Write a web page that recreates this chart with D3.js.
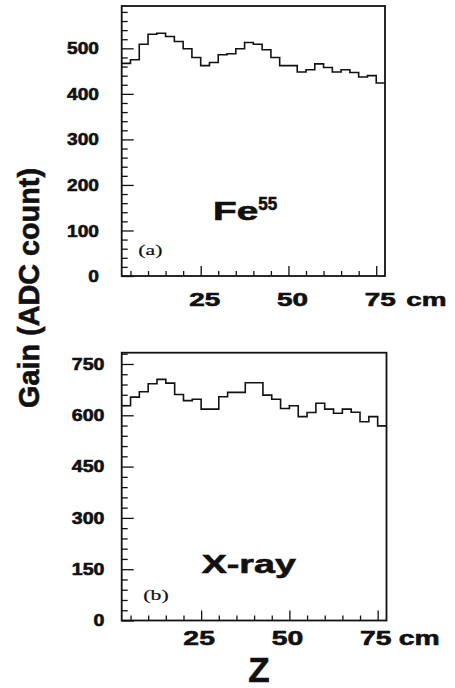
<!DOCTYPE html>
<html>
<head>
<meta charset="utf-8">
<script src="https://cdn.jsdelivr.net/npm/d3@7"></script>
<style>
  html, body { margin: 0; padding: 0; background: #fff; }
  svg { display: block; }
  text { font-family: "Liberation Sans", Arial, Helvetica, sans-serif; font-weight: bold; fill: #111;
         stroke: #111; stroke-width: 0.6px; }
  .serif { font-family: "Liberation Serif", "Times New Roman", serif; font-weight: normal; stroke-width: 0.2px; }
</style>
</head>
<body>
<svg id="chart" width="455" height="688"></svg>
<script>
// Lower edge of each 2.5 cm bin along Z (cm)
const binLow = [2.5, 5, 7.5, 10, 12.5, 15, 17.5, 20, 22.5, 25, 27.5, 30, 32.5, 35, 37.5,
                40, 42.5, 45, 47.5, 50, 52.5, 55, 57.5, 60, 62.5, 65, 67.5, 70, 72.5, 75];
const binWidth = 2.5;

// Gain (ADC count) per bin, Fe55 source (a)
const gainFe55 = [467, 475, 509, 531, 533, 526, 515, 499, 480, 462, 469, 486, 488, 499, 513,
                  509, 497, 480, 462, 462, 448, 453, 466, 458, 448, 453, 447, 437, 440, 424];

// Gain (ADC count) per bin, X-ray source (b)
const gainXray = [628, 653, 669, 692, 705, 694, 661, 643, 647, 618, 618, 654, 667, 667, 695,
                  695, 659, 647, 620, 628, 596, 608, 635, 618, 606, 618, 609, 581, 596, 569];

// Axis tick labels
const zTicks = [25, 50, 75];
const topGainTicks = [0, 100, 200, 300, 400, 500];
const bottomGainTicks = [0, 150, 300, 450, 600, 750];

const svg = d3.select("#chart");

function drawPanel(opt) {
  const x = d3.scaleLinear().domain([2.5, 77.5]).range([opt.left, opt.right]);
  const y = d3.scaleLinear().domain([0, opt.yMax]).range([opt.bottom, opt.top]);
  const g = svg.append("g");

  // minor / major ticks pointing into the frame
  const xMinor = d3.range(5, 77.5, 5).filter(v => !zTicks.includes(v));
  g.append("g").attr("transform", `translate(0,${opt.bottom})`)
    .call(d3.axisBottom(x).tickValues(xMinor).tickSize(-5).tickFormat(""));
  g.append("g").attr("transform", `translate(0,${opt.bottom})`)
    .call(d3.axisBottom(x).tickValues(zTicks).tickSize(-10).tickFormat(""));
  const yMinor = d3.range(0, opt.yMax, opt.yMinorStep).filter(v => !opt.yTicks.includes(v));
  g.append("g").attr("transform", `translate(${opt.left},0)`)
    .call(d3.axisLeft(y).tickValues(yMinor).tickSize(-6).tickFormat(""));
  g.append("g").attr("transform", `translate(${opt.left},0)`)
    .call(d3.axisLeft(y).tickValues(opt.yTicks).tickSize(-12).tickFormat(""));
  g.selectAll(".domain").remove();
  g.selectAll(".tick line").attr("stroke", "#111").attr("stroke-width", 1.3);

  // frame
  g.append("rect")
    .attr("x", opt.left).attr("y", opt.top)
    .attr("width", opt.right - opt.left).attr("height", opt.bottom - opt.top)
    .attr("fill", "none").attr("stroke", "#111").attr("stroke-width", 1.8);

  // histogram as a step outline
  const pts = [];
  opt.data.forEach((v, i) => {
    pts.push([x(binLow[i]), y(v)]);
    pts.push([x(binLow[i] + binWidth), y(v)]);
  });
  g.append("path")
    .attr("d", d3.line()(pts))
    .attr("fill", "none").attr("stroke", "#111").attr("stroke-width", 1.6);

  // y tick labels
  opt.yTicks.forEach(v => {
    g.append("text")
      .attr("transform", `translate(${opt.yLabelRight},${y(v)}) scale(${opt.yLabelSx},1)`)
      .attr("text-anchor", "end").attr("dy", "0.36em")
      .style("font-size", opt.yLabelSize + "px")
      .text(v);
  });

  // x tick labels
  zTicks.forEach(v => {
    g.append("text")
      .attr("transform", `translate(${x(v) + opt.xLabelDx},${opt.xLabelBase}) scale(${opt.xLabelSx},1)`)
      .attr("text-anchor", "middle")
      .style("font-size", opt.xLabelSize + "px")
      .text(v);
  });
  g.append("text")
    .attr("transform", `translate(${x(75) + opt.unitDx},${opt.xLabelBase}) scale(${opt.xLabelSx},1)`)
    .style("font-size", opt.xLabelSize + "px")
    .text("cm");

  return { x, y, g };
}

// (a) Fe55
const panelA = drawPanel({
  left: 121.7, right: 385, top: 6, bottom: 276,
  yMax: 593, yMinorStep: 20, yTicks: topGainTicks, data: gainFe55,
  yLabelRight: 99, yLabelSx: 1.14, yLabelSize: 16.8,
  xLabelDx: 4, xLabelBase: 306, xLabelSx: 1.5, xLabelSize: 18.6, unitDx: 30
});
panelA.g.append("text")
  .attr("transform", "translate(213,219.5) scale(1.55,1)")
  .style("font-size", "25px").text("Fe");
panelA.g.append("text")
  .attr("transform", "translate(258.3,210) scale(0.95,1)")
  .style("font-size", "18px").text("55");
panelA.g.append("text").attr("class", "serif")
  .attr("transform", "translate(138.3,255) scale(1.5,1)")
  .style("font-size", "14.5px").text("(a)");

// (b) X-ray
const panelB = drawPanel({
  left: 121.7, right: 386.5, top: 352.7, bottom: 620.5,
  yMax: 783, yMinorStep: 30, yTicks: bottomGainTicks, data: gainXray,
  yLabelRight: 104.5, yLabelSx: 1.2, yLabelSize: 16.3,
  xLabelDx: -2, xLabelBase: 645, xLabelSx: 1.35, xLabelSize: 21, unitDx: 21
});
panelB.g.append("text")
  .attr("transform", "translate(201.7,573.3) scale(1.47,1)")
  .style("font-size", "25.6px").text("X-ray");
panelB.g.append("text").attr("class", "serif")
  .attr("transform", "translate(143.3,600) scale(1.5,1)")
  .style("font-size", "14.5px").text("(b)");

// shared axis titles
svg.append("text")
  .attr("transform", "translate(39,288) rotate(-90)")
  .attr("text-anchor", "middle")
  .style("font-size", "28.8px")
  .text("Gain (ADC count)");
svg.append("text")
  .attr("transform", "translate(259,681.7)")
  .attr("text-anchor", "middle")
  .style("font-size", "35px")
  .text("Z");
</script>
</body>
</html>
